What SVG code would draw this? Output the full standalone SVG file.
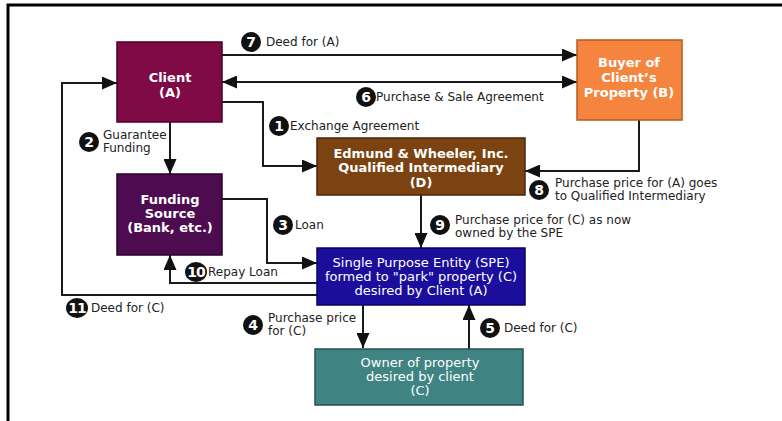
<svg xmlns="http://www.w3.org/2000/svg" width="782" height="421" viewBox="0 0 782 421">
<style>
.bg{fill:#ffffff}
.frame{stroke:#000;stroke-width:3;fill:none}
.box{stroke-width:1.5}
.bt{font-family:"DejaVu Sans",Verdana,sans-serif;font-size:13px;font-weight:bold;fill:#ffffff;text-anchor:middle}
.nt{font-family:"DejaVu Sans",Verdana,sans-serif;font-size:13px;fill:#ffffff;text-anchor:middle}
.lbl{font-family:"DejaVu Sans",Verdana,sans-serif;font-size:12px;fill:#222}
.num{font-family:"DejaVu Sans",Verdana,sans-serif;font-size:14px;font-weight:bold;fill:#ffffff;text-anchor:middle}
.dot{fill:#111}
.conn path{stroke:#1a1a1a;stroke-width:2;fill:none}
</style>
<defs>
<marker id="ah" markerUnits="userSpaceOnUse" markerWidth="15" markerHeight="13" refX="15" refY="6.5" orient="auto-start-reverse">
<path d="M0,0 L15,6.5 L0,13 z" fill="#111"/>
</marker>
</defs>
<rect class="bg" x="0" y="0" width="782" height="421"/>
<path class="frame" d="M8,421 V5 H782"/>

<g class="conn" id="connectors">
<path d="M222,55 H577" marker-end="url(#ah)"/>
<path d="M222,82 H577" marker-start="url(#ah)" marker-end="url(#ah)"/>
<path d="M222,102 H263 V166 H317" marker-end="url(#ah)"/>
<path d="M170,122 V174" marker-end="url(#ah)"/>
<path d="M639,120 V171 H525" marker-end="url(#ah)"/>
<path d="M421,195 V248" marker-end="url(#ah)"/>
<path d="M222,199 H267 V263 H317" marker-end="url(#ah)"/>
<path d="M317,283 H170 V255" marker-end="url(#ah)"/>
<path d="M317,295 H62 V83 H117" marker-end="url(#ah)"/>
<path d="M363,305 V348" marker-end="url(#ah)"/>
<path d="M469,349 V305" marker-end="url(#ah)"/>
</g>

<g id="client">
<rect class="box" x="117" y="42" width="105" height="80" fill="#7f0a45" stroke="#4a0026"/>
<text class="bt" x="170" y="82">Client</text>
<text class="bt" x="170" y="97">(A)</text>
</g>
<g id="buyer">
<rect class="box" x="577" y="40" width="105" height="80" fill="#f5843f" stroke="#b55a20"/>
<text class="bt" x="629" y="67">Buyer of</text>
<text class="bt" x="629" y="82">Client’s</text>
<text class="bt" x="629" y="97">Property (B)</text>
</g>
<g id="funding">
<rect class="box" x="117" y="174" width="105" height="81" fill="#4d0c4f" stroke="#2a0029"/>
<text class="bt" x="170" y="204">Funding</text>
<text class="bt" x="170" y="218">Source</text>
<text class="bt" x="170" y="232">(Bank, etc.)</text>
</g>
<g id="qi">
<rect class="box" x="317" y="138" width="208" height="57" fill="#7b4212" stroke="#4a2608"/>
<text class="bt" x="421" y="158">Edmund &amp; Wheeler, Inc.</text>
<text class="bt" x="421" y="172">Qualified Intermediary</text>
<text class="bt" x="421" y="187">(D)</text>
</g>
<g id="spe">
<rect class="box" x="317" y="248" width="208" height="57" fill="#1b0e9c" stroke="#0b0560"/>
<text class="nt" x="421" y="267">Single Purpose Entity (SPE)</text>
<text class="nt" x="421" y="281">formed to "park" property (C)</text>
<text class="nt" x="421" y="295">desired by Client (A)</text>
</g>
<g id="owner">
<rect class="box" x="315" y="349" width="208" height="56" fill="#3f8483" stroke="#245352"/>
<text class="nt" x="420" y="367" fill="#e8f4f4">Owner of property</text>
<text class="nt" x="420" y="381" fill="#e8f4f4">desired by client</text>
<text class="nt" x="420" y="395" fill="#e8f4f4">(C)</text>
</g>

<g id="labels">
<circle class="dot" cx="251" cy="42" r="10"/><text class="num" x="251" y="47">7</text>
<text class="lbl" x="266" y="46">Deed for (A)</text>
<circle class="dot" cx="366" cy="97" r="10"/><text class="num" x="366" y="102">6</text>
<text class="lbl" x="376" y="101">Purchase &amp; Sale Agreement</text>
<circle class="dot" cx="279" cy="126" r="10"/><text class="num" x="279" y="131">1</text>
<text class="lbl" x="290" y="130">Exchange Agreement</text>
<circle class="dot" cx="89" cy="142" r="10"/><text class="num" x="89" y="147">2</text>
<text class="lbl" x="103" y="139">Guarantee</text>
<text class="lbl" x="103" y="152">Funding</text>
<circle class="dot" cx="539" cy="190" r="10"/><text class="num" x="539" y="195">8</text>
<text class="lbl" x="555" y="187">Purchase price for (A) goes</text>
<text class="lbl" x="555" y="200">to Qualified Intermediary</text>
<circle class="dot" cx="440" cy="225" r="10"/><text class="num" x="440" y="230">9</text>
<text class="lbl" x="455" y="224">Purchase price for (C) as now</text>
<text class="lbl" x="455" y="237">owned by the SPE</text>
<circle class="dot" cx="283" cy="225" r="10"/><text class="num" x="283" y="230">3</text>
<text class="lbl" x="295" y="229">Loan</text>
<ellipse class="dot" cx="196" cy="272" rx="11" ry="10"/><text class="num" x="196" y="277" font-size="13" letter-spacing="-1">10</text>
<text class="lbl" x="208" y="276">Repay Loan</text>
<ellipse class="dot" cx="77" cy="308" rx="11" ry="10"/><text class="num" x="77" y="313" font-size="13" letter-spacing="-1">11</text>
<text class="lbl" x="91" y="312">Deed for (C)</text>
<circle class="dot" cx="253" cy="325" r="10"/><text class="num" x="253" y="330">4</text>
<text class="lbl" x="268" y="322">Purchase price</text>
<text class="lbl" x="268" y="335">for (C)</text>
<circle class="dot" cx="490" cy="328" r="10"/><text class="num" x="490" y="333">5</text>
<text class="lbl" x="504" y="332">Deed for (C)</text>
</g>
</svg>
